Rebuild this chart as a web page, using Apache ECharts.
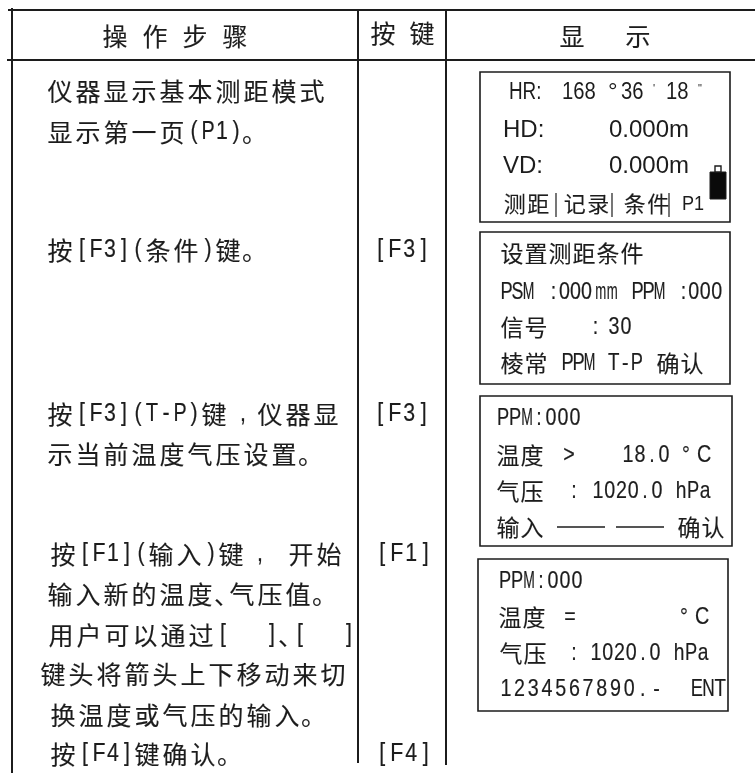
<!DOCTYPE html>
<html><head><meta charset="utf-8">
<style>html,body{margin:0;padding:0;background:#fff}#c{width:755px;height:773px}</style>
<script src="https://cdn.jsdelivr.net/npm/echarts@6/dist/echarts.min.js"></script>
</head><body><div id="c"></div>
<script>
// ---- table text ----
const headerText = ['操','作','步','骤','按','键','显','示'];
const stepLines = [
  '仪器显示基本测距模式','显示第一页(P1)。','按[F3](条件)键。',
  '按[F3](T-P)键 , 仪器显','示当前温度气压设置。',
  '按[F1](输入)键 ,   开始','输入新的温度、气压值。','用户可以通过[     ]、[     ]',
  '键头将箭头上下移动来切','换温度或气压的输入。','按[F4]键确认。'
];
const keyLabels = ['[F3]','[F3]','[F1]','[F4]'];
const panel1Sans = ['HR:','168','36','18','HD:','0.000m','VD:','0.000m','P1'];
const panel1Marks = ['°',"'",'"'];
const panel1Cjk = ['测距','|','记录','|','条件','|'];
const panelRuns = [
  '设置测距条件','PSM',':','000','mm','PPM',':','000','信号',':','30','棱常','PPM','T-P','确认',
  'PPM:000','温度','>','18.0','°','C','气压',':','1020.0','hPa','输入','确认',
  'PPM:000','温度','=','°','C','气压',':','1020.0','hPa','1234567890.-','ENT'
];
const dashes = ['——','——'];

// ---- layout (kept apart from the text) ----
const headerX = [115,155,195,235,383,422,572,638];
const headerY = [36,36,36,36,33,33,36,36];
const stepX = [47,47,47,47,47,50,47,48,40,50,50];
const stepY = [91,132,250,414,454,554,594,635,674,715,754];
const keyX = [373,373,375,375];
const keyY = [250,414,554,754];
const p1SansX = [509,562,621,666,503,609,503,609,682];
const p1SansY = [93,93,93,93,130,130,166,166,204];
const p1SansSize = [23,23,23,23,24,24,24,24,21];
const p1SansScale = [0.82,0.88,0.88,0.88,1,1,1,1,0.86];
const p1MarkX = [608,653,698], p1MarkY = [92,89,89];
const p1CjkX = [503,556,563,612,623,669];
const runX = [501,501,548,559,595,632,678,688,501,590,608,501,562,608,657,
  497,497,563,622,680,698,497,568,592,675,497,678,
  499,499,564,678,696,500,568,590,673,499,691];
const runY = [253,292,292,292,292,292,292,292,327,327,327,363,363,363,363,
  418,455,455,455,455,455,491,491,491,491,527,527,
  581,617,617,617,617,653,653,653,653,689,689];
const runAdv = [24,11,11,11,11.5,11,11,11.5,24,11,12,24,11,11.5,24,
  12,24,12,12,12,12,24,12,11.8,12,24,24,
  12,24,12,12,12,24,12,11.8,12,13.7,11.7];
const dashX = [557,616], dashY = [527,527], dashW = [48,48];
const boxes = [[480,72,250,150],[480,232,250,152],[480,396,252,150],[478,559,250,152]];
const frameH = [[8,755,10],[7,755,60]];
const frameV = [[12,8,773],[358,10,763],[446,10,765]];

const INK = '#1c1c1c';
const CJK = '"Noto Sans CJK SC"';
const SANS = '"Liberation Sans"';
const els = [];
function isCjk(c){ return c.charCodeAt(0) > 0x2E7F; }
function glyph(c, cx, y, size, fam, sx, align, bold){
  const style = {text:c, x:0, y:0, font:size+'px '+fam, fill:INK, textAlign:align||'center', textVerticalAlign:'middle'};
  if (bold){ style.stroke = INK; style.lineWidth = bold; }
  els.push({type:'text', x:cx, y:y, scaleX:sx||1, silent:true, style});
}
// lays a string out in fixed-width cells, as the typeset page does
function cells(str, x, y, size, cjkAdv, latAdv, latSize){
  let p = x;
  const shrink = {M:0.58, m:0.55, T:0.78, N:0.72, E:0.76, P:0.76, S:0.74, H:0.74, a:0.8, h:0.8, p:0.8};
  for (const c of str){
    if (c === ' '){ p += latAdv/2; continue; }
    if (c === '、'){ glyph(c, p-1, y, size, CJK, 1, 'left', 0.12); p += latAdv; continue; }
    if (c === '。'){ glyph(c, p-1, y, size, CJK, 1, 'left', 0.12); p += cjkAdv; continue; }
    if (isCjk(c)){ glyph(c, p+cjkAdv/2-1, y, size, CJK, 1, 'center', 0.12); p += cjkAdv; continue; }
    glyph(c, p+latAdv/2, y, latSize, SANS, shrink[c] || 0.82, 'center', 0.2);
    p += latAdv;
  }
}
function line(x1,y1,x2,y2,w){
  els.push({type:'line', silent:true, shape:{x1,y1,x2,y2}, style:{stroke:INK, lineWidth:w}});
}
frameH.forEach(a=>line(a[0],a[2],a[1],a[2],2));
frameV.forEach(a=>line(a[0],a[1],a[0],a[2],2));
boxes.forEach(b=>els.push({type:'rect', silent:true, shape:{x:b[0],y:b[1],width:b[2],height:b[3]},
  style:{fill:'none', stroke:INK, lineWidth:1.6}}));
headerText.forEach((t,i)=>glyph(t, headerX[i], headerY[i], 25, CJK, 1, 'center', 0.12));
stepLines.forEach((t,i)=>cells(t, stepX[i], stepY[i], 25, 28, 14, 26));
keyLabels.forEach((t,i)=>cells(t, keyX[i], keyY[i], 25, 28, 14.5, 26));
panel1Sans.forEach((t,i)=>glyph(t, p1SansX[i], p1SansY[i], p1SansSize[i], SANS, p1SansScale[i], 'left'));
panel1Marks.forEach((t,i)=>glyph(t, p1MarkX[i], p1MarkY[i], i===0?24:11, SANS, 1, 'left'));
panel1Cjk.forEach((t,i)=>{
  if (t === '|') line(p1CjkX[i], 193, p1CjkX[i], 217, 1.2);
  else cells(t, p1CjkX[i]+1, 204, 22, 23.5, 12, 20);
});
panelRuns.forEach((t,i)=>cells(t, runX[i], runY[i], 23, runAdv[i], runAdv[i], 24));
dashes.forEach((t,i)=>line(dashX[i], dashY[i], dashX[i]+dashW[i], dashY[i], 1.4));
// battery icon
els.push({type:'rect', silent:true, shape:{x:710,y:172,width:16,height:27}, style:{fill:'#0a0a0a', stroke:INK, lineWidth:1}});
els.push({type:'rect', silent:true, shape:{x:715,y:166,width:6,height:6}, style:{fill:'#fff', stroke:INK, lineWidth:1.4}});

const chart = echarts.init(document.getElementById('c'), null, {renderer:'canvas'});
chart.setOption({animation:false, backgroundColor:'#fff', graphic:{elements:els}});
</script></body></html>
